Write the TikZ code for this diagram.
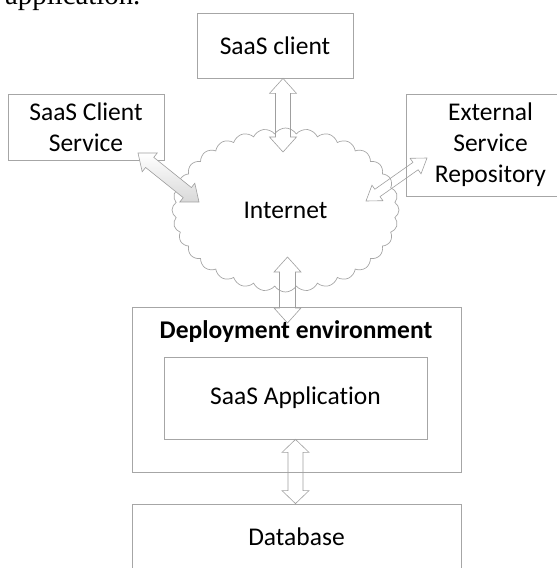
\documentclass[tikz,border=0pt]{standalone}
\usepackage{fontspec}
\setmainfont{Carlito}[Ligatures=NoCommon]
\newfontfamily\bodyserif{Liberation Serif}
\usetikzlibrary{calc,shapes.symbols}

\tikzset{
  lbl/.style={font=\fontsize{25.5}{31}\selectfont, align=center, text=black},
  box/.style={lbl, draw=gray!70, line width=0.8pt, inner sep=0pt},
  arrowline/.style={draw=gray!75, line width=0.6pt, line join=miter},
}

% double-headed block arrow between two named points
% #1 options, #2 from, #3 to, #4 head length, #5 half head width, #6 half shaft width
\newcommand\blockarrow[6][]{%
  \draw[arrowline,#1] (#2)
    -- ($(#2)!#4!(#3)!#5!90:(#3)$) -- ($(#2)!#4!(#3)!#6!90:(#3)$)
    -- ($(#3)!#4!(#2)!#6!-90:(#2)$) -- ($(#3)!#4!(#2)!#5!-90:(#2)$)
    -- (#3)
    -- ($(#3)!#4!(#2)!#5!90:(#2)$) -- ($(#3)!#4!(#2)!#6!90:(#2)$)
    -- ($(#2)!#4!(#3)!#6!-90:(#3)$) -- ($(#2)!#4!(#3)!#5!-90:(#3)$)
    -- cycle;}

\begin{document}
\begin{tikzpicture}[x=1pt, y=-1pt]
  \useasboundingbox (0,0) rectangle (557,568);
  \clip (0,0) rectangle (557,568);

  % end of the preceding sentence
  \node[anchor=base west, inner sep=0pt, font=\bodyserif\fontsize{28.8}{30}\selectfont] (cap) at (5,4.5) {application.};

  % boxes
  \node[box, minimum width=156pt, minimum height=65pt] (client) at (275,45.5) {SaaS client};
  \node[box, minimum width=156pt, minimum height=66pt] (svc) at (86,127) {SaaS Client\\Service};
  \node[box, minimum width=169pt, minimum height=102pt] (ext) at (490.5,145) {External\\Service\\Repository};

  \node[cloud, draw=gray!70, line width=0.7pt, cloud puffs=32, cloud puff arc=115,
        aspect=1.4, minimum width=227pt, minimum height=164pt, inner sep=0pt, lbl] (net) at (285.5,210) {Internet};

  \node[box, minimum width=329pt, minimum height=165pt] (dep) at (296.5,389.5) {};
  \node[lbl, font=\bfseries\fontsize{25.5}{31}\selectfont] (deplbl) at (296,332) {Deployment environment};
  \node[box, minimum width=263pt, minimum height=82pt] (app) at (295.5,398) {SaaS Application};
  \node[box, minimum width=329pt, minimum height=66pt] (db) at (296.5,537) {Database};

  % connector end points
  \coordinate (t1) at ([xshift=8pt]client.south);
  \coordinate (t2) at (283,152);
  \coordinate (b1) at (287.5,257);
  \coordinate (b2) at (287.5,323);
  \coordinate (d1) at (app.south);
  \coordinate (d2) at (app.south |- db.north);
  \coordinate (l1) at (138,153);
  \coordinate (l2) at (199,202);
  \coordinate (r1) at (366,201);
  \coordinate (r2) at (427,158);

  % connectors
  \blockarrow{t1}{t2}{15pt}{13.5pt}{7.5pt}
  \blockarrow{b1}{b2}{15pt}{13.5pt}{8pt}
  \blockarrow{d1}{d2}{13pt}{13.5pt}{7.5pt}
  \blockarrow[top color=white, bottom color=gray!30]{l1}{l2}{15pt}{12pt}{6.5pt}
  \blockarrow{r1}{r2}{14pt}{9.5pt}{4.5pt}
\end{tikzpicture}
\end{document}
